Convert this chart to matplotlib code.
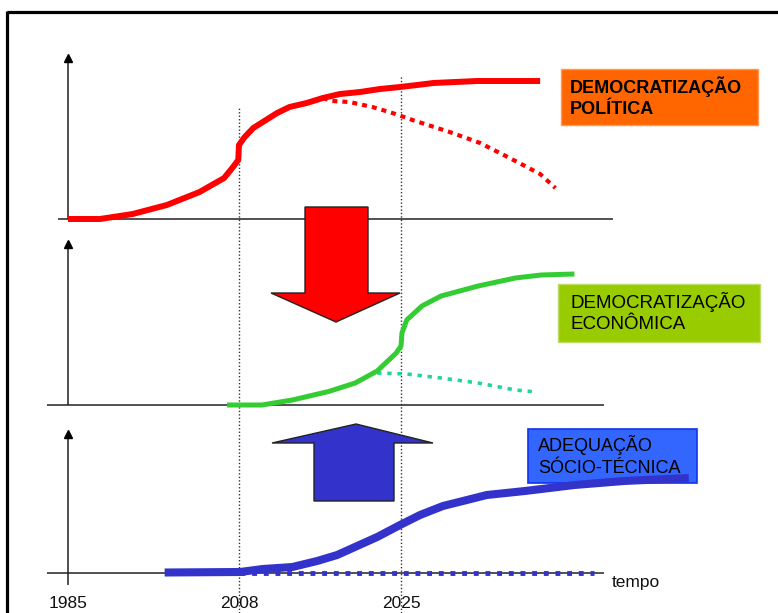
import numpy as np
import matplotlib.pyplot as plt
from matplotlib.patches import Polygon, Rectangle
from matplotlib.transforms import Affine2D

plt.rcParams['font.family'] = ['Liberation Sans', 'DejaVu Sans']

W, H = 778, 613

# --- dados (nível em unidades arbitrárias) ---
anos_pol = [1985, 1989.3, 1993.7, 1998.3, 2002.7, 2006.0, 2007.2, 2007.9, 2008.0,
            2008.6, 2009.5, 2010.5, 2012.0, 2013.3, 2015.1, 2016.8, 2018.6, 2020.7,
            2022.8, 2024.9, 2026.7, 2028.4, 2033.0, 2039.6]
nivel_pol = [0, 0, 5, 14, 27, 41, 52, 59, 74, 82, 91, 97, 106, 112, 116, 121, 125, 127,
             130, 132, 134, 136, 138, 138]
anos_pol_q = [2016.8, 2017.8, 2019.6, 2022.0, 2024.1, 2026.2, 2030.1, 2033.3, 2036.4,
              2039.6, 2041.2]
nivel_pol_q = [121, 118, 117, 112, 106, 99, 87, 76, 61, 45, 31]

anos_eco = [2006.4, 2010.4, 2013.6, 2017.4, 2020.2, 2022.5, 2024.5, 2025.0, 2025.1,
            2025.6, 2027.2, 2029.2, 2033.1, 2037.0, 2039.7, 2043.2]
nivel_eco = [0, 0, 5, 13.5, 22, 34, 52, 59, 72, 85, 99, 109, 119, 127, 130, 131]
anos_eco_q = [2022.5, 2025.6, 2029.2, 2033.1, 2037.0, 2039.2]
nivel_eco_q = [32, 31, 27, 22, 15, 13]

anos_soc = [1998.0, 2008.1, 2010.5, 2013.6, 2016.2, 2018.3, 2020.4, 2022.5, 2024.9,
            2027.0, 2029.4, 2031.5, 2034.0, 2038.0, 2043.2, 2048.4, 2055.2]
nivel_soc = [0.5, 1, 4, 6, 12, 18, 27, 36, 48, 58, 67, 72, 78, 82, 88, 92, 95]
anos_soc_q = [2008.1, 2045.3]
nivel_soc_q = [0, 0]

marcos = [1985, 2008, 2025]
rotulos = ['1985', '2008', '2025']

# deslocamento vertical de cada painel
off1, off2, off3 = 354, 168, 0


def fwd(a):
    a = np.asarray(a, float)
    return np.where(a <= 2008, (a - 1985) * 171 / 23, 171 + (a - 2008) * 162 / 17)


def inv(p):
    p = np.asarray(p, float)
    return np.where(p <= 171, 1985 + p * 23 / 171, 2008 + (p - 171) * 17 / 162)


fig = plt.figure(figsize=(W / 100, H / 100), dpi=100)
ax = fig.add_axes([0, 0, 1, 1])
ax.set_xscale('function', functions=(fwd, inv))
ax.set_xlim(float(inv(-68)), float(inv(W - 68)))
ax.set_ylim(-40, 573)
ax.axis('off')

# transform em pixels da figura (origem no topo)
px = Affine2D().scale(1 / W, -1 / H).translate(0, 1) + fig.transFigure

# moldura
ax.plot([7, W], [12, 12], color='black', lw=2.3, transform=px, clip_on=False,
        solid_capstyle='butt')
ax.plot([7, 7], [11, H], color='black', lw=2.3, transform=px, clip_on=False,
        solid_capstyle='butt')

# eixos de cada painel
kw = dict(color='#222222', lw=1.1, zorder=2)
ax.hlines(off1, 1983.65, 2047.2, **kw)
ax.hlines(off2, 1982.2, 2046.3, **kw)
ax.hlines(off3, 1982.2, 2046.3, **kw)
ax.vlines(1985, off1, off1 + 157, **kw)
ax.vlines(1985, off2, off2 + 157, **kw)
ax.vlines(1985, off3 - 12, off3 + 137, **kw)
for topo in [off1 + 161, off2 + 161, off3 + 139]:
    ax.plot([1985], [topo], marker='^', ms=6, color='black', zorder=3)

# linhas de referência
ax.vlines(2008, -40, off1 + 112, color='#333333', lw=1, linestyles=(0, (1, 1.5)), zorder=2)
ax.vlines(2025, -40, off1 + 144, color='#333333', lw=1, linestyles=(0, (1, 1.5)), zorder=2)

# rótulos do tempo
for a, r in zip(marcos, rotulos):
    ax.text(a, -30, r, ha='center', va='center', fontsize=12.5, color='#111111')
ax.text(612, 583, 'tempo', transform=px, ha='left', va='center', fontsize=12.5,
        color='#111111')

# caixas
ax.add_patch(Rectangle((561, 69), 197, 56, transform=px, fc='#ff6600', ec='#ff9955',
                       lw=1, zorder=3))
ax.text(570, 97, 'DEMOCRATIZAÇÃO\nPOLÍTICA', transform=px, ha='left', va='center',
        fontsize=13, fontweight='bold', linespacing=1.35, zorder=4)
ax.add_patch(Rectangle((558, 284), 202, 58, transform=px, fc='#99cc00', ec='#bbdd66',
                       lw=1, zorder=3))
ax.text(571, 312.5, 'DEMOCRATIZAÇÃO\nECONÔMICA', transform=px, ha='left', va='center',
        fontsize=13.5, linespacing=1.35, zorder=4)
ax.add_patch(Rectangle((528, 429), 169, 54, transform=px, fc='#3366ff', ec='#1133ee',
                       lw=1.2, zorder=3))
ax.text(538, 456, 'ADEQUAÇÃO\nSÓCIO-TÉCNICA', transform=px, ha='left', va='center',
        fontsize=13, linespacing=1.35, zorder=4)

# setas grandes
seta_verm = [(305, 207), (368, 207), (368, 293), (400, 293), (336, 322), (271, 293), (305, 293)]
seta_azul = [(356, 424), (433, 443), (394, 443), (394, 501), (314, 501), (314, 443), (272, 443)]
ax.add_patch(Polygon(seta_verm, closed=True, transform=px, fc='#ff0000', ec='#222222',
                     lw=1, zorder=5))
ax.add_patch(Polygon(seta_azul, closed=True, transform=px, fc='#3333cc', ec='#222222',
                     lw=1, zorder=5))

# curvas
y1 = np.array(nivel_pol) + off1
y1q = np.array(nivel_pol_q) + off1
ax.plot(anos_pol_q, y1q, color='#ff0000', lw=3, ls=(0, (1.2, 1.2)), zorder=6)
ax.plot(anos_pol, y1, color='#ff0000', lw=4.3, zorder=7, solid_capstyle='butt',
        solid_joinstyle='round')

y2 = np.array(nivel_eco) + off2
y2q = np.array(nivel_eco_q) + off2
ax.plot(anos_eco_q, y2q, color='#22d4a0', lw=2.6, ls=(0, (1.2, 1.6)), zorder=6)
ax.plot(anos_eco, y2, color='#33cc33', lw=3.6, zorder=7, solid_capstyle='butt',
        solid_joinstyle='round')

y3 = np.array(nivel_soc) + off3
y3q = np.array(nivel_soc_q) + off3
ax.plot(anos_soc_q, y3q, color='#3333cc', lw=3.5, ls=(0, (1, 1.4)), zorder=6)
ax.plot(anos_soc, y3, color='#3333cc', lw=5.8, zorder=7, solid_capstyle='butt',
        solid_joinstyle='round')

fig.savefig('out.png', dpi=100, facecolor='white')
